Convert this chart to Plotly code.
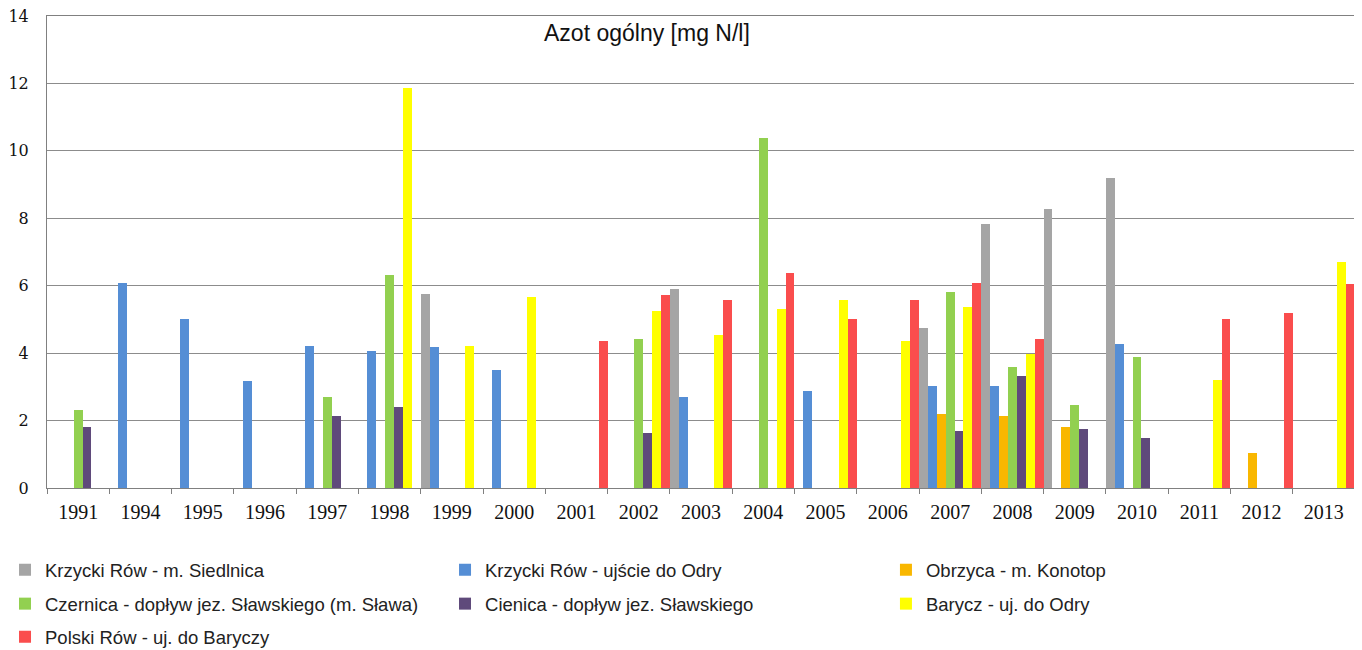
import plotly.graph_objects as go

years = ["1991", "1994", "1995", "1996", "1997", "1998", "1999", "2000", "2001", "2002", "2003",
         "2004", "2005", "2006", "2007", "2008", "2009", "2010", "2011", "2012", "2013"]

siedlnica = [None, None, None, None, None, None, 5.74, None, None, None, 5.90,
             None, None, None, 4.74, 7.83, 8.27, 9.20, None, None, None]
ujscie = [None, 6.07, 5.01, 3.17, 4.22, 4.06, 4.19, 3.50, None, None, 2.71,
          None, 2.89, None, 3.03, 3.03, None, 4.26, None, None, None]
obrzyca = [None, None, None, None, None, None, None, None, None, None, None,
           None, None, None, 2.20, 2.14, 1.80, None, None, 1.04, None]
czernica = [2.31, None, None, None, 2.69, 6.32, None, None, None, 4.43, None,
            10.37, None, None, 5.80, 3.58, 2.45, 3.88, None, None, None]
cienica = [1.80, None, None, None, 2.14, 2.41, None, None, None, 1.63, None,
           None, None, None, 1.70, 3.31, 1.76, 1.48, None, None, None]
barycz = [None, None, None, None, None, 11.85, 4.22, 5.66, None, 5.26, 4.55,
          5.32, 5.58, 4.37, 5.37, 3.98, None, None, 3.21, None, 6.69]
polski = [None, None, None, None, None, None, None, None, 4.37, 5.71, 5.57,
          6.39, 5.02, 5.58, 6.08, 4.43, None, None, 5.02, 5.18, 6.04]

series = [
    ("Krzycki Rów - m. Siedlnica", siedlnica, "#A5A5A5"),
    ("Krzycki Rów - ujście do Odry", ujscie, "#558ED5"),
    ("Obrzyca - m. Konotop", obrzyca, "#F9B700"),
    ("Czernica - dopływ jez. Sławskiego (m. Sława)", czernica, "#92D050"),
    ("Cienica - dopływ jez. Sławskiego", cienica, "#5F4A7B"),
    ("Barycz - uj. do Odry", barycz, "#FFFF00"),
    ("Polski Rów - uj. do Baryczy", polski, "#FA4D4D"),
]

# legend laid out as 3 columns x 3 rows, one legend box per entry
col_x = [-0.0321, 0.3043, 0.6414]
row_y = [-0.174, -0.246, -0.316]
leg_font = dict(family="Liberation Sans Narrow, Liberation Sans, sans-serif", size=18.5, color="#222")

fig = go.Figure()
legends = {}
for i, (name, vals, color) in enumerate(series):
    key = "legend" if i == 0 else "legend%d" % (i + 1)
    fig.add_trace(go.Bar(x=years, y=vals, name=name, marker_color=color,
                         marker_line_width=0, legend=key, showlegend=True))
    legends[key] = dict(orientation="h", xanchor="left", yanchor="middle",
                        x=col_x[i % 3], y=row_y[i // 3], font=leg_font,
                        bgcolor="rgba(0,0,0,0)", visible=True)

# page body has an 8px margin, so the figure is 8px smaller than the window
fig.update_layout(
    width=1354, height=642,
    margin=dict(l=39, r=7, t=8, b=162, autoexpand=False),
    showlegend=True,
    plot_bgcolor="white", paper_bgcolor="white",
    barmode="group", bargap=0, bargroupgap=0,
    xaxis=dict(
        type="category", tickson="boundaries", ticks="outside", ticklen=5,
        tickcolor="#808080", showline=True, linecolor="#808080", linewidth=1,
        mirror=True, showgrid=False, automargin=False, ticklabelstandoff=6,
        tickfont=dict(family="Liberation Serif, serif", size=20, color="#111"),
    ),
    yaxis=dict(
        range=[0, 14], dtick=2, showgrid=True, gridcolor="#8C8C8C", gridwidth=1,
        showline=True, linecolor="#808080", linewidth=1, zeroline=False,
        ticks="", ticklabelstandoff=14, automargin=False, ticklabeloverflow="allow",
        tickfont=dict(family="DejaVu Serif, serif", size=16, color="#111"),
    ),
    annotations=[dict(
        text="Azot ogólny [mg N/l]", xref="paper", yref="paper",
        x=0.4587, y=0.964, xanchor="center", yanchor="middle", showarrow=False,
        font=dict(family="Liberation Sans, Arial, sans-serif", size=23, color="#111"),
    )],
    **legends,
)

fig.write_html("out.html")
